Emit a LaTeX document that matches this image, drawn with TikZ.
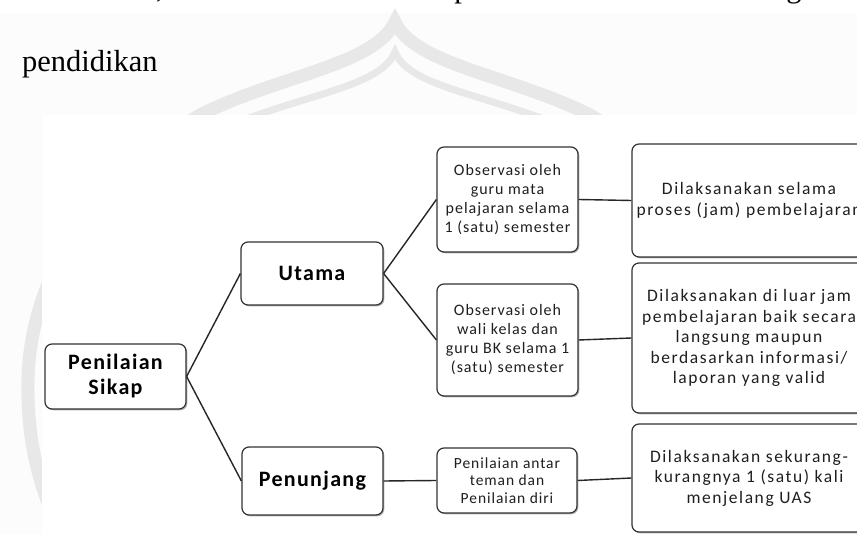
\documentclass[tikz,border=0pt]{standalone}
\usepackage{fontspec}
\setmainfont{Liberation Serif}
\newfontfamily\calfont[LetterSpace=6]{Carlito}
\newfontfamily\calwide[LetterSpace=9]{Carlito}
\usetikzlibrary{shadows}
\begin{document}
\begin{tikzpicture}[x=1pt,y=-1pt,
  box/.style={draw=black!80, line width=1.2pt, rounded corners=7pt, fill=white, align=center, inner sep=0pt, text=black!88,
    drop shadow={shadow xshift=1.3pt, shadow yshift=-1.3pt, opacity=0.3, fill=black}},
  conn/.style={draw=black!85, line width=1.4pt},
  mainlbl/.style={font=\calfont\bfseries\fontsize{22}{25}\selectfont, text=black},
  obslbl/.style={font=\calfont\fontsize{16}{19}\selectfont},
  antarlbl/.style={font=\calfont\fontsize{15.5}{17.5}\selectfont},
  desclbl/.style={font=\calwide\fontsize{17.5}{20.5}\selectfont},
  wm/.style={draw=black!9, line cap=round},
  serif/.style={font=\fontsize{30.5}{32}\selectfont, inner sep=0pt}
]
\useasboundingbox (0,0) rectangle (857,534);
\clip (0,0) rectangle (857,534);
% faint page tone
\fill[black!1] (0,13) rectangle (857,534);
% watermark (faint logo)
\draw[wm, line width=13pt] (60,530) .. controls (35,480) and (27,430) .. (28,380)
  .. controls (30,280) and (90,180) .. (200,115) .. controls (280,75) and (375,65) .. (395,22)
  .. controls (415,65) and (510,75) .. (590,115) .. controls (700,180) and (760,280) .. (762,380);
\draw[wm, line width=7pt] (80,530) .. controls (55,480) and (47,430) .. (48,380)
  .. controls (50,290) and (105,200) .. (210,135) .. controls (290,95) and (380,90) .. (395,52)
  .. controls (410,90) and (500,95) .. (580,135) .. controls (685,200) and (740,290) .. (742,380);
\fill[white] (42,115) rectangle (857,534);
% text of the page (line above is cut off by the top edge)
\node[serif, anchor=base] (comma) at (160,-2.5) {,};
\node[serif, anchor=base] (pp) at (462,-2.5) {p};
\node[serif, anchor=base] (gg) at (794,-2) {g};
\node[serif, anchor=base west] (pend) at (22,72) {pendidikan};
% diagram
\node[box, mainlbl, minimum width=141pt, minimum height=65pt] (sikap) at (115.5,376.5) {Penilaian\\Sikap};
\node[box, mainlbl, minimum width=142pt, minimum height=63pt] (utama) at (312,273.5) {Utama};
\node[box, mainlbl, minimum width=141pt, minimum height=68pt] (penunjang) at (312.5,481) {Penunjang};
\node[box, obslbl, minimum width=141pt, minimum height=105pt] (obs1) at (507.5,199.5) {Observasi oleh\\guru mata\\pelajaran selama\\1 (satu) semester};
\node[box, obslbl, minimum width=141pt, minimum height=112pt] (obs2) at (507.5,340) {Observasi oleh\\wali kelas dan\\guru BK selama 1\\(satu) semester};
\node[box, antarlbl, minimum width=140pt, minimum height=65pt] (antar) at (507,480.5) {Penilaian antar\\teman dan\\Penilaian diri};
\node[box, desclbl, minimum width=234pt, minimum height=113pt] (d1) at (749,200.5) {Dilaksanakan selama\\proses (jam) pembelajaran};
\node[box, desclbl, minimum width=234pt, minimum height=150pt] (d2) at (749,338) {Dilaksanakan di luar jam\\pembelajaran baik secara\\langsung maupun\\berdasarkan informasi/\\laporan yang valid};
\node[box, desclbl, minimum width=234pt, minimum height=108pt] (d3) at (749,478) {Dilaksanakan sekurang-\\kurangnya 1 (satu) kali\\menjelang UAS};
% connectors
\draw[conn] (sikap.east) -- (utama.west);
\draw[conn] (sikap.east) -- (penunjang.west);
\draw[conn] (utama.east) -- (obs1.west);
\draw[conn] (utama.east) -- (obs2.west);
\draw[conn] (penunjang.east) -- (antar.west);
\draw[conn] (obs1.east) -- (d1.west);
\draw[conn] (obs2.east) -- (d2.west);
\draw[conn] (antar.east) -- (d3.west);
\end{tikzpicture}
\end{document}
